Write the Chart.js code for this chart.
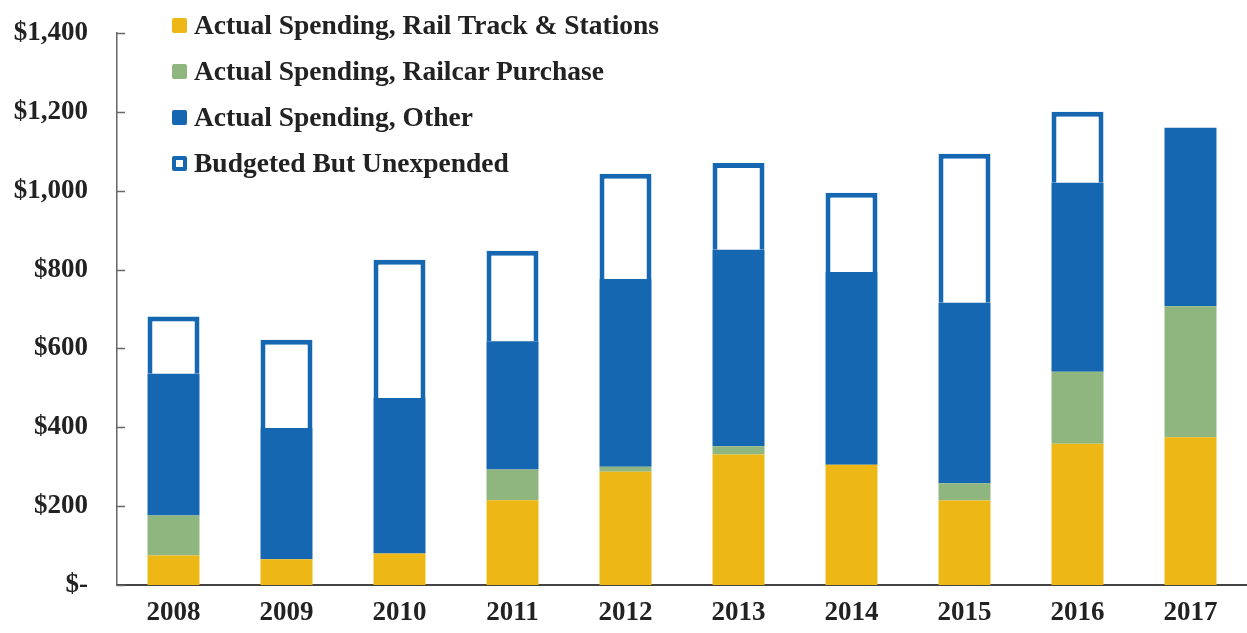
<!DOCTYPE html>
<html>
<head>
<meta charset="utf-8">
<script src="https://cdn.jsdelivr.net/npm/chart.js@4.4.1/dist/chart.umd.min.js"></script>
<style>
  html, body { margin: 0; padding: 0; background: #fff; }
  #wrap { position: relative; width: 1247px; height: 633px; }
  #legend {
    position: absolute; left: 172px; top: 2px; margin: 0; padding: 0; list-style: none;
    font-family: "Liberation Serif", "Times New Roman", serif; font-weight: bold; font-size: 27.5px; color: #222;
  }
  #legend li { height: 46px; line-height: 46px; display: flex; align-items: center; }
  #legend .box { width: 15px; height: 15px; margin-right: 7px; border-radius: 2px; box-sizing: border-box; }
</style>
</head>
<body>
<div id="wrap">
  <canvas id="spendChart" width="1247" height="633"></canvas>
  <ul id="legend"></ul>
</div>
<script>
// $ millions by year
const years = ['2008', '2009', '2010', '2011', '2012', '2013', '2014', '2015', '2016', '2017'];
const railTrack = [75, 65, 80, 215, 287, 331, 305, 214, 358, 375];
const railcar = [101, 0, 0, 78, 13, 21, 0, 44, 183, 332];
const otherSpend = [360, 333, 394, 325, 476, 498, 489, 458, 479, 453];
const unexpended = [145, 224, 351, 230, 267, 220, 201, 378, 180, null];
const yTicks = [0, 200, 400, 600, 800, 1000, 1200, 1400];

const FONT = { family: '"Liberation Serif", "Times New Roman", serif', weight: 'bold', size: 27 };
const YELLOW = '#EDB816';
const GREEN = '#8FB67F';
const BLUE = '#1467B0';

// short tick marks pointing into the plot from the y axis
const innerTicks = {
  id: 'innerTicks',
  afterDraw(chart) {
    const y = chart.scales.y;
    const ctx = chart.ctx;
    ctx.save();
    ctx.strokeStyle = '#666';
    ctx.lineWidth = 1.5;
    yTicks.forEach(v => {
      const py = Math.round(y.getPixelForValue(v)) + 0.5;
      ctx.beginPath();
      ctx.moveTo(y.right, py);
      ctx.lineTo(y.right + 8, py);
      ctx.stroke();
    });
    ctx.restore();
  }
};

const datasets = [
  { label: 'Actual Spending, Rail Track & Stations', data: railTrack, backgroundColor: YELLOW },
  { label: 'Actual Spending, Railcar Purchase', data: railcar, backgroundColor: GREEN },
  { label: 'Actual Spending, Other', data: otherSpend, backgroundColor: BLUE },
  { label: 'Budgeted But Unexpended', data: unexpended, backgroundColor: '#ffffff',
    borderColor: BLUE, borderWidth: 5, borderSkipped: 'bottom' }
];
datasets.forEach(ds => { ds.barPercentage = 0.46; ds.categoryPercentage = 1; });

const chart = new Chart(document.getElementById('spendChart'), {
  type: 'bar',
  data: { labels: years, datasets: datasets },
  options: {
    responsive: false,
    animation: false,
    layout: { autoPadding: false, padding: { top: 33, right: 0, bottom: 5, left: 10 } },
    plugins: { legend: { display: false }, tooltip: { enabled: false } },
    scales: {
      x: {
        stacked: true,
        grid: { display: false, drawTicks: false },
        border: { display: true, color: '#444', width: 2 },
        ticks: { color: '#222', font: FONT, padding: 12 },
        afterFit: axis => { axis.height = 43; }
      },
      y: {
        stacked: true,
        min: 0,
        max: 1400,
        grid: { display: false, drawTicks: false },
        border: { display: true, color: '#666', width: 1.5 },
        afterBuildTicks: axis => { axis.ticks = yTicks.map(v => ({ value: v })); },
        // fixed axis width, no extra label room above/below the plot
        afterFit: axis => { axis.width = 107; axis.paddingTop = 0; axis.paddingBottom = 0; },
        ticks: {
          color: '#222',
          font: FONT,
          padding: 29,
          callback: v => v === 0 ? '$-' : '$' + v.toLocaleString('en-US')
        }
      }
    }
  },
  plugins: [innerTicks]
});

// legend list built from the datasets
const legend = document.getElementById('legend');
chart.data.datasets.forEach(ds => {
  const li = document.createElement('li');
  const box = document.createElement('span');
  box.className = 'box';
  if (ds.borderWidth) {
    box.style.background = '#fff';
    box.style.border = '4px solid ' + ds.borderColor;
  } else {
    box.style.background = ds.backgroundColor;
  }
  li.appendChild(box);
  li.appendChild(document.createTextNode(ds.label));
  legend.appendChild(li);
});
</script>
</body>
</html>
